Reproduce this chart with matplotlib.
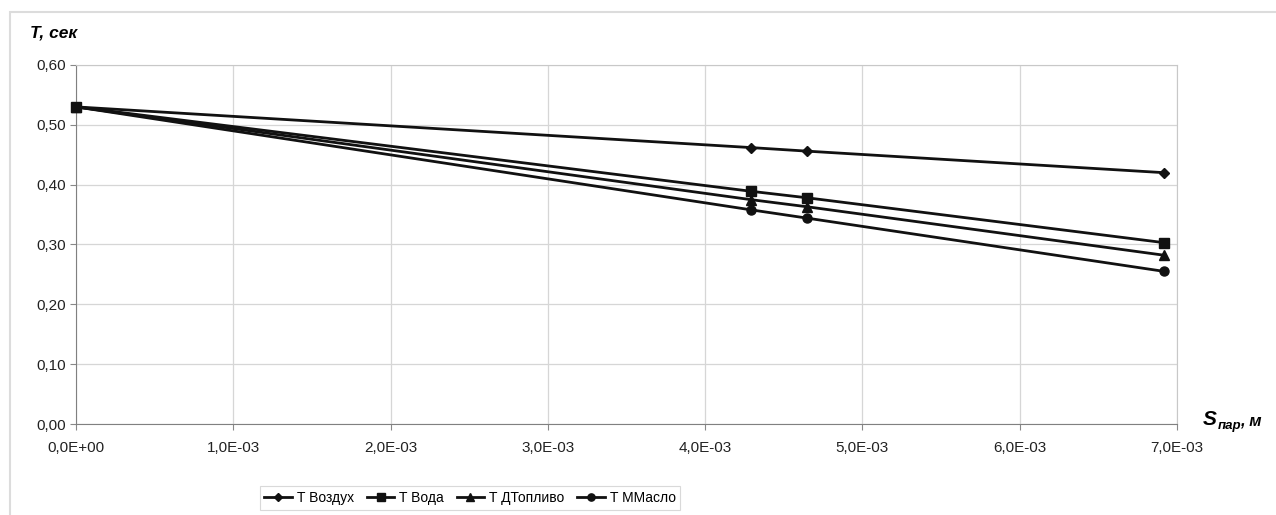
import matplotlib
matplotlib.use("Agg")
import matplotlib.pyplot as plt
from matplotlib.patches import Rectangle
from matplotlib.ticker import FuncFormatter, MultipleLocator

plt.rcParams['font.family'] = ['Liberation Sans', 'DejaVu Sans']

# data
s_par = [0.0, 4.29e-3, 4.65e-3, 6.92e-3]
t_air = [0.530, 0.462, 0.456, 0.420]
t_water = [0.530, 0.389, 0.378, 0.303]
t_diesel = [0.530, 0.375, 0.363, 0.282]
t_oil = [0.530, 0.358, 0.344, 0.255]

labels = ["T Воздух", "T Вода", "T ДТопливо", "T ММасло"]
markers = ["D", "s", "^", "o"]
sizes = [5, 7, 7, 6.5]

W, H = 1276, 515
fig = plt.figure(figsize=(W / 100, H / 100), dpi=100)
ax = fig.add_axes([76 / W, 1 - 424 / H, (1177 - 76) / W, (424 - 65) / H])

for y, lab, m, ms in zip([t_air, t_water, t_diesel, t_oil], labels, markers, sizes):
    ax.plot(s_par, y, color="#111111", lw=2.0, marker=m, markersize=ms, label=lab,
            clip_on=False, zorder=3)

ax.set_xlim(0, 7e-3)
ax.set_ylim(0, 0.6)
ax.xaxis.set_major_locator(MultipleLocator(1e-3))
ax.yaxis.set_major_locator(MultipleLocator(0.1))


def fmt_x(v, pos):
    if abs(v) < 1e-12:
        return "0,0E+00"
    return ("%.1E" % v).replace(".", ",")


ax.xaxis.set_major_formatter(FuncFormatter(fmt_x))
ax.yaxis.set_major_formatter(FuncFormatter(lambda v, p: ("%.2f" % v).replace(".", ",")))
ax.tick_params(labelsize=11, colors="#222222", length=4, width=0.8, color="#888888", pad=3)
ax.tick_params(axis="x", pad=8)
ax.grid(True, color="#d6d6d6", lw=0.9)
ax.set_axisbelow(True)
for side in ["top", "right"]:
    ax.spines[side].set_color("#c8c8c8")
for side in ["left", "bottom"]:
    ax.spines[side].set_color("#808080")

# axis titles
fig.text(30 / W, 1 - 38 / H, "T, сек", fontsize=12.5, fontweight="bold", fontstyle="italic")
fig.text(1203 / W, 1 - 425 / H, "S", fontsize=15, fontweight="bold", fontstyle="italic")
fig.text(1218 / W, 1 - 429 / H, "пар", fontsize=9.5, fontweight="bold", fontstyle="italic")
fig.text(1240 / W, 1 - 425 / H, ", м", fontsize=12, fontweight="bold", fontstyle="italic")

# chart area border
fig.add_artist(Rectangle((10 / W, -0.1), 1.2, 1 - 12 / H + 0.1, transform=fig.transFigure,
                         fill=False, edgecolor="#dcdcdc", lw=1.5))

leg = fig.legend(loc="center", bbox_to_anchor=(470 / W, 1 - 498 / H), ncol=4, fontsize=10,
                 frameon=True, fancybox=False, edgecolor="#d0d0d0", handlelength=2.0,
                 handletextpad=0.35, columnspacing=0.9, borderpad=0.35, markerscale=0.8)
leg.get_frame().set_linewidth(0.8)

fig.savefig("out.png", dpi=100)
